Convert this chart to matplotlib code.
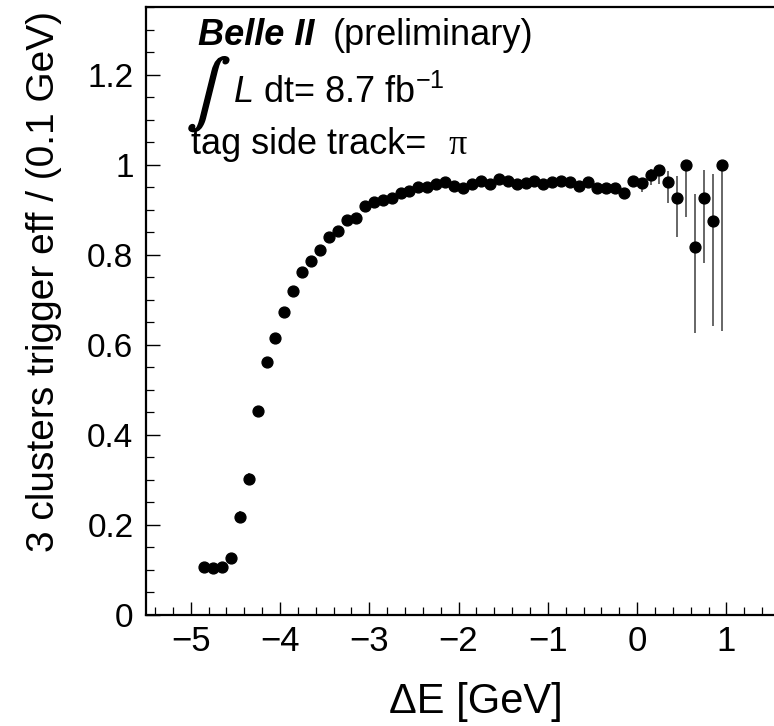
import matplotlib
matplotlib.use("Agg")
import matplotlib.pyplot as plt
import matplotlib.patheffects as pe
from matplotlib.ticker import MultipleLocator

# Bin centres of Delta E [GeV] (0.1 GeV bins)
delta_e = [-4.85, -4.75, -4.65, -4.55, -4.45, -4.35, -4.25, -4.15, -4.05, -3.95,
           -3.85, -3.75, -3.65, -3.55, -3.45, -3.35, -3.25, -3.15, -3.05, -2.95,
           -2.85, -2.75, -2.65, -2.55, -2.45, -2.35, -2.25, -2.15, -2.05, -1.95,
           -1.85, -1.75, -1.65, -1.55, -1.45, -1.35, -1.25, -1.15, -1.05, -0.95,
           -0.85, -0.75, -0.65, -0.55, -0.45, -0.35, -0.25, -0.15, -0.05, 0.05,
           0.15, 0.25, 0.35, 0.45, 0.55, 0.65, 0.75, 0.85, 0.95]

# 3-cluster trigger efficiency per bin
efficiency = [0.106, 0.104, 0.107, 0.127, 0.218, 0.303, 0.453, 0.562, 0.616, 0.673,
              0.719, 0.761, 0.787, 0.811, 0.840, 0.853, 0.878, 0.881, 0.909, 0.916,
              0.922, 0.925, 0.937, 0.941, 0.950, 0.950, 0.957, 0.962, 0.952, 0.949,
              0.957, 0.964, 0.958, 0.967, 0.963, 0.957, 0.959, 0.964, 0.958, 0.962,
              0.964, 0.962, 0.953, 0.962, 0.947, 0.949, 0.947, 0.936, 0.964, 0.959,
              0.976, 0.987, 0.962, 0.927, 1.000, 0.818, 0.927, 0.874, 1.000]

# Asymmetric (binomial) uncertainties
err_low = [0.006, 0.006, 0.006, 0.007, 0.012, 0.013, 0.012, 0.010, 0.008, 0.007,
           0.006, 0.006, 0.005, 0.005, 0.005, 0.005, 0.004, 0.004, 0.004, 0.004,
           0.004, 0.004, 0.004, 0.004, 0.004, 0.004, 0.004, 0.004, 0.004, 0.004,
           0.004, 0.004, 0.004, 0.004, 0.004, 0.004, 0.004, 0.004, 0.004, 0.004,
           0.004, 0.004, 0.004, 0.004, 0.004, 0.005, 0.005, 0.006, 0.008, 0.019,
           0.022, 0.031, 0.048, 0.087, 0.117, 0.192, 0.146, 0.232, 0.370]
err_high = [0.006, 0.006, 0.006, 0.007, 0.012, 0.013, 0.012, 0.010, 0.008, 0.007,
            0.006, 0.006, 0.005, 0.005, 0.005, 0.005, 0.004, 0.004, 0.004, 0.004,
            0.004, 0.004, 0.004, 0.004, 0.004, 0.004, 0.004, 0.004, 0.004, 0.004,
            0.004, 0.004, 0.004, 0.004, 0.004, 0.004, 0.004, 0.004, 0.004, 0.004,
            0.004, 0.004, 0.004, 0.004, 0.004, 0.005, 0.005, 0.006, 0.008, 0.012,
            0.014, 0.010, 0.024, 0.047, 0.000, 0.117, 0.060, 0.105, 0.000]

x_tick_values = [-5, -4, -3, -2, -1, 0, 1]
y_tick_values = [0, 0.2, 0.4, 0.6, 0.8, 1.0, 1.2]
y_tick_labels = ["0", "0.2", "0.4", "0.6", "0.8", "1", "1.2"]

W, H = 774, 726
SANS = "Liberation Sans"

plt.rcParams["font.family"] = [SANS, "DejaVu Sans"]
plt.rcParams["mathtext.fontset"] = "custom"
plt.rcParams["mathtext.rm"] = SANS
plt.rcParams["mathtext.it"] = SANS + ":italic"

fig = plt.figure(figsize=(W / 100, H / 100), dpi=100)


def fx(px):
    return px / W


def fy(py):
    return 1 - py / H


# frame: left edge at 146 px, top at 7 px, x-axis at 615 px
left, top, bottom = 146, 7, 615
x_min, x_max = -5.5, 1.6
px_per_unit = 89.3
right = left + (x_max - x_min) * px_per_unit
ax = fig.add_axes([fx(left), fy(bottom), fx(right - left), (bottom - top) / H])
ax.set_xlim(x_min, x_max)
ax.set_ylim(0, 1.35)

ax.errorbar(delta_e, efficiency, yerr=[err_low, err_high], fmt="o",
            color="black", markersize=7.8, ecolor="#5a5a5a", elinewidth=1.3,
            capsize=0, zorder=3)

for side in ["left", "bottom", "top", "right"]:
    ax.spines[side].set_linewidth(1.6)

ax.set_xticks(x_tick_values)
ax.xaxis.set_minor_locator(MultipleLocator(0.2))
ax.set_yticks(y_tick_values)
ax.set_yticklabels(y_tick_labels)
ax.yaxis.set_minor_locator(MultipleLocator(0.05))
ax.tick_params(axis="x", which="major", direction="in", length=9.5, width=1.0,
               labelsize=25, pad=7, top=False)
ax.tick_params(axis="x", which="minor", direction="in", length=5.5, width=0.9, top=False)
ax.tick_params(axis="y", which="major", direction="in", length=10, width=1.0,
               labelsize=24, pad=9, right=False)
ax.tick_params(axis="y", which="minor", direction="in", length=5.5, width=0.9, right=False)

# axis titles
fig.text(fx(563), fy(713), "\u0394E [GeV]", fontsize=30, ha="right", va="baseline")
fig.text(fx(44), fy(552), "3 clusters trigger eff / (0.1 GeV)", fontsize=28,
         rotation=90, rotation_mode="anchor", ha="left", va="center")

# annotations
fig.text(fx(198), fy(45), "Belle II", fontsize=26, fontweight="bold",
         fontstyle="italic", ha="left", va="baseline")
fig.text(fx(333), fy(45), "(preliminary)", fontsize=26, ha="left", va="baseline")
fig.text(fx(187), fy(134), r"$\int$", fontsize=47, ha="left", va="bottom",
         math_fontfamily="stix",
         path_effects=[pe.withStroke(linewidth=1.2, foreground="black")])
fig.text(fx(233), fy(103), r"$\mathit{L}$ dt= 8.7 fb$^{\mathrm{-1}}$", fontsize=26,
         ha="left", va="baseline")
fig.text(fx(191), fy(154), "tag side track= ", fontsize=26, ha="left", va="baseline")
fig.text(fx(448), fy(154), "\u03c0", fontsize=26, family="Liberation Serif",
         ha="left", va="baseline")

fig.savefig("out.png", dpi=100)
